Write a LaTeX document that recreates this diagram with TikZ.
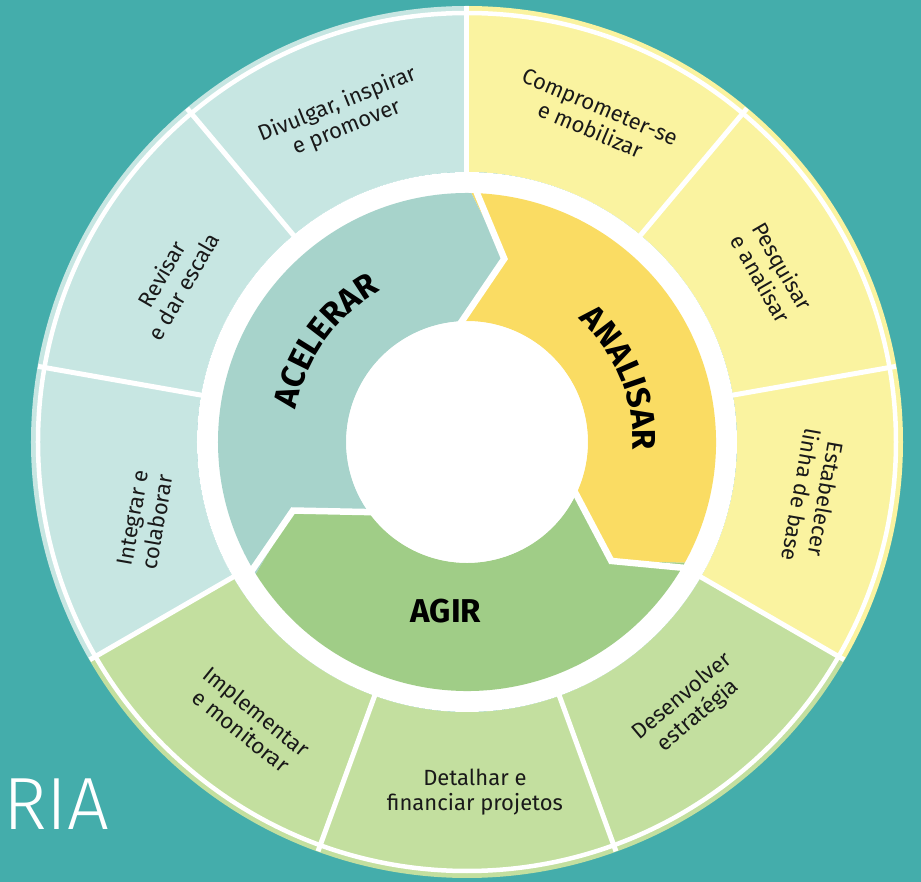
\documentclass[tikz,border=0pt]{standalone}
\usepackage{fontspec}
\setmainfont{Fira Sans}
\newfontfamily\lightfont{Fira Sans Light}
\usetikzlibrary{calc,decorations.text}
\definecolor{bgteal}{HTML}{44ADAB}
\definecolor{outteal}{HTML}{C7E6E2}
\definecolor{outyellow}{HTML}{FAF3A0}
\definecolor{outgreen}{HTML}{C3DF9F}
\definecolor{acelc}{HTML}{A7D3CB}
\definecolor{analc}{HTML}{FADC63}
\definecolor{agirc}{HTML}{A0CD87}
\newcommand\ringfont{\bfseries\fontsize{33}{33}\selectfont}
\tikzset{
  lbl/.style={font=\fontsize{22}{25}\selectfont, align=center, text=black!90, inner sep=0pt},
  gapline/.style={white, line width=6.5pt, line join=miter},
  radline/.style={white, line width=5pt},
}
\begin{document}
\begin{tikzpicture}[x=1pt,y=1pt]
\useasboundingbox (-467,-440) rectangle (454,442);
\fill[bgteal] (-467,-440) rectangle (454,442);
% outer segments
\foreach \a/\c in {50/outyellow,10/outyellow,-30/outyellow,-70/outgreen,-110/outgreen,-150/outgreen,-190/outteal,130/outteal,90/outteal}{
  \pgfmathsetmacro\b{\a+40}
  \fill[\c] (\a:436) arc[start angle=\a, end angle=\b, radius=436] -- (\b:270) arc[start angle=\b, end angle=\a, radius=270] -- cycle;
}
\draw[white, line width=4.5pt] (0,0) circle[radius=429];
\foreach \a in {90,50,10,-30,-70,-110,-150,170,130}{
  \draw[radline] (\a:268) -- (\a:435.5);
}
\fill[white] (0,0) circle[radius=270];
% inner shapes
\fill[analc] (-29:249) arc[start angle=-29, end angle=89, radius=249] -- (78.5:187) -- (92.4:121) arc[start angle=92.4, end angle=-25.6, radius=121] -- (-39.5:187) -- cycle;
\fill[acelc] (89:249) arc[start angle=89, end angle=212, radius=249] -- (201.5:187) -- (215.4:121) arc[start angle=215.4, end angle=92.4, radius=121] -- (78.5:187) -- cycle;
\fill[agirc] (-148:249) arc[start angle=-148, end angle=-29, radius=249] -- (-39.5:187) -- (-25.6:121) arc[start angle=-25.6, end angle=-144.6, radius=121] -- (-158.5:187) -- cycle;
% gaps
\draw[gapline] (89:262) -- (78.5:187) -- ($(78.5:187)!1.2!(92.4:121)$);
\draw[gapline] (-29:262) -- (-39.5:187) -- ($(-39.5:187)!1.2!(-25.6:121)$);
\draw[gapline] (-148:262) -- (-158.5:187) -- ($(-158.5:187)!1.2!(-144.6:121)$);
\fill[white] (0,0) circle[radius=120.5];
% inner labels
\path[decorate, decoration={text along path, text={|\ringfont|ANALISAR}, text align=center}] (62.5:166) arc[start angle=62.5, end angle=-17.5, radius=166];
\path[decorate, decoration={text along path, text={|\ringfont|ACELERAR}, text align=center}] (184.5:174) arc[start angle=184.5, end angle=104.5, radius=174];
\node[font=\ringfont, inner sep=0pt] (agir) at (-21,-169) {AGIR};
% outer labels
\node[lbl, rotate=-23] (t1) at (68.4:348) {Comprometer-se\\e mobilizar};
\node[lbl, rotate=-60] (t2) at (29.1:349) {Pesquisar\\e analisar};
\node[lbl, rotate=-100] (t3) at (-9:351) {Estabelecer\\linha de base};
\node[lbl, rotate=40] (t4) at (-49.8:346) {Desenvolver\\estratégia};
\node[lbl] (t5) at (-88.7:350) {Detalhar e\\financiar projetos};
\node[lbl, rotate=-39] (t6) at (-128:354) {Implementar\\e monitorar};
\node[lbl, rotate=80] (t7) at (193.6:331) {Integrar e\\colaborar};
\node[lbl, rotate=60] (t8) at (151.2:336) {Revisar\\e dar escala};
\node[lbl, rotate=22] (t9) at (111:349) {Divulgar, inspirar\\e promover};
% side text
\node[font=\lightfont\fontsize{74}{74}\selectfont, text=white, anchor=base west, inner sep=0pt] (ria) at (-464,-388) {RIA};
\end{tikzpicture}
\end{document}
